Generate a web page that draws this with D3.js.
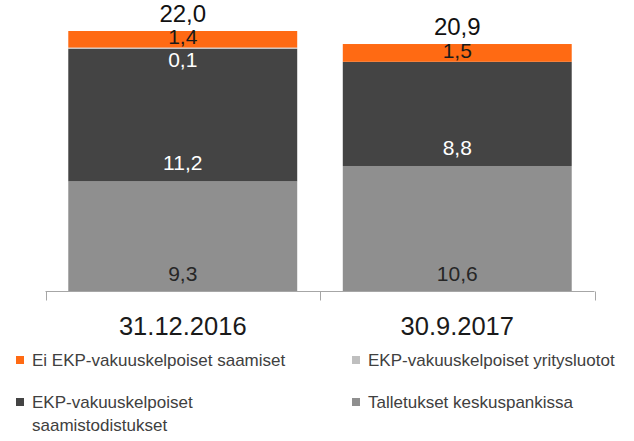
<!DOCTYPE html>
<html>
<head>
<meta charset="utf-8">
<script src="https://cdn.jsdelivr.net/npm/d3@7"></script>
<style>
  html, body { margin: 0; padding: 0; background: #fff; }
  svg { display: block; font-family: "Liberation Sans", Arial, sans-serif; }
</style>
</head>
<body>
<svg id="chart" width="634" height="441"></svg>
<script>
const categories = ["31.12.2016", "30.9.2017"];
const seriesNames = [
  "Talletukset keskuspankissa",
  "EKP-vakuuskelpoiset saamistodistukset",
  "EKP-vakuuskelpoiset yritysluotot",
  "Ei EKP-vakuuskelpoiset saamiset"
];
const talletukset = [9.3, 10.6];
const saamistodistukset = [11.2, 8.8];
const yritysluotot = [0.1, 0.0];
const eiEkp = [1.4, 1.5];
const totals = [22.0, 20.9];

const colors = {
  "Talletukset keskuspankissa": "#8f8f8f",
  "EKP-vakuuskelpoiset saamistodistukset": "#444444",
  "EKP-vakuuskelpoiset yritysluotot": "#bfbfbf",
  "Ei EKP-vakuuskelpoiset saamiset": "#ff6a13"
};
const labelColors = {
  "Talletukset keskuspankissa": "#262626",
  "EKP-vakuuskelpoiset saamistodistukset": "#ffffff",
  "EKP-vakuuskelpoiset yritysluotot": "#ffffff",
  "Ei EKP-vakuuskelpoiset saamiset": "#1a1a1a"
};
// baseline offset relative to the bottom of each segment
const labelOffset = {
  "Talletukset keskuspankissa": -11,
  "EKP-vakuuskelpoiset saamistodistukset": -11,
  "EKP-vakuuskelpoiset yritysluotot": 18.5,
  "Ei EKP-vakuuskelpoiset saamiset": -3.5
};

const seriesValues = [talletukset, saamistodistukset, yritysluotot, eiEkp];
const table = categories.map((c, i) => {
  const row = { category: c };
  seriesNames.forEach((s, j) => row[s] = seriesValues[j][i]);
  return row;
});

const fmt = v => v.toFixed(1).replace(".", ",");

const svg = d3.select("#chart");
const x = d3.scaleBand().domain(categories).range([45.5, 594.5])
  .paddingInner(0.166).paddingOuter(0.083);
const y = d3.scaleLinear().domain([0, 22]).range([291.5, 31]);

const stacked = d3.stack().keys(seriesNames)(table);

const layers = svg.append("g").selectAll("g").data(stacked).join("g")
  .attr("fill", d => colors[d.key]);
layers.selectAll("rect").data(d => d.map(p => ({ key: d.key, p }))).join("rect")
  .attr("x", d => x(d.p.data.category))
  .attr("width", x.bandwidth())
  .attr("y", d => y(d.p[1]))
  .attr("height", d => Math.max(0, y(d.p[0]) - y(d.p[1])));

// value labels
stacked.forEach(layer => {
  svg.append("g").selectAll("text")
    .data(layer.filter(p => p.data[layer.key] > 0))
    .join("text")
    .attr("x", p => x(p.data.category) + x.bandwidth() / 2)
    .attr("y", p => y(p[0]) + labelOffset[layer.key])
    .attr("text-anchor", "middle")
    .attr("font-size", 21)
    .attr("fill", labelColors[layer.key])
    .text(p => fmt(p.data[layer.key]));
});

// totals
svg.append("g").selectAll("text").data(categories).join("text")
  .attr("x", c => x(c) + x.bandwidth() / 2)
  .attr("y", (c, i) => y(totals[i]) - 9)
  .attr("text-anchor", "middle")
  .attr("font-size", 24)
  .attr("fill", "#111")
  .text((c, i) => fmt(totals[i]));

// axis
const [r0, r1] = x.range();
const step = x.step();
const axisY = y(0);
const axis = svg.append("g").attr("stroke", "#a6a6a6").attr("stroke-width", 1);
axis.append("line").attr("x1", r0).attr("x2", r1).attr("y1", axisY).attr("y2", axisY);
d3.range(categories.length + 1).forEach(i => {
  const bx = Math.round(r0 + i * step) + 0.5;
  axis.append("line").attr("x1", bx).attr("x2", bx).attr("y1", axisY).attr("y2", axisY + 9);
});
svg.append("g").selectAll("text").data(categories).join("text")
  .attr("x", c => x(c) + x.bandwidth() / 2)
  .attr("y", 335)
  .attr("text-anchor", "middle")
  .attr("font-size", 25.5)
  .attr("fill", "#1a1a1a")
  .text(c => c);

// legend
const legendItems = [
  { name: "Ei EKP-vakuuskelpoiset saamiset", lines: ["Ei EKP-vakuuskelpoiset saamiset"], x: 16, y: 366 },
  { name: "EKP-vakuuskelpoiset yritysluotot", lines: ["EKP-vakuuskelpoiset yritysluotot"], x: 352, y: 366 },
  { name: "EKP-vakuuskelpoiset saamistodistukset", lines: ["EKP-vakuuskelpoiset", "saamistodistukset"], x: 16, y: 408 },
  { name: "Talletukset keskuspankissa", lines: ["Talletukset keskuspankissa"], x: 352, y: 408 }
];
const lg = svg.append("g").selectAll("g").data(legendItems).join("g");
lg.append("rect")
  .attr("x", d => d.x).attr("y", d => d.y - 10)
  .attr("width", 8).attr("height", 8)
  .attr("fill", d => colors[d.name]);
lg.append("text")
  .attr("x", d => d.x + 16).attr("y", d => d.y)
  .attr("font-size", 17).attr("fill", "#404040")
  .selectAll("tspan").data(d => d.lines.map((l, i) => ({ l, i, x: d.x + 16 })))
  .join("tspan")
  .attr("x", t => t.x).attr("dy", t => t.i === 0 ? 0 : 23)
  .text(t => t.l);
</script>
</body>
</html>
